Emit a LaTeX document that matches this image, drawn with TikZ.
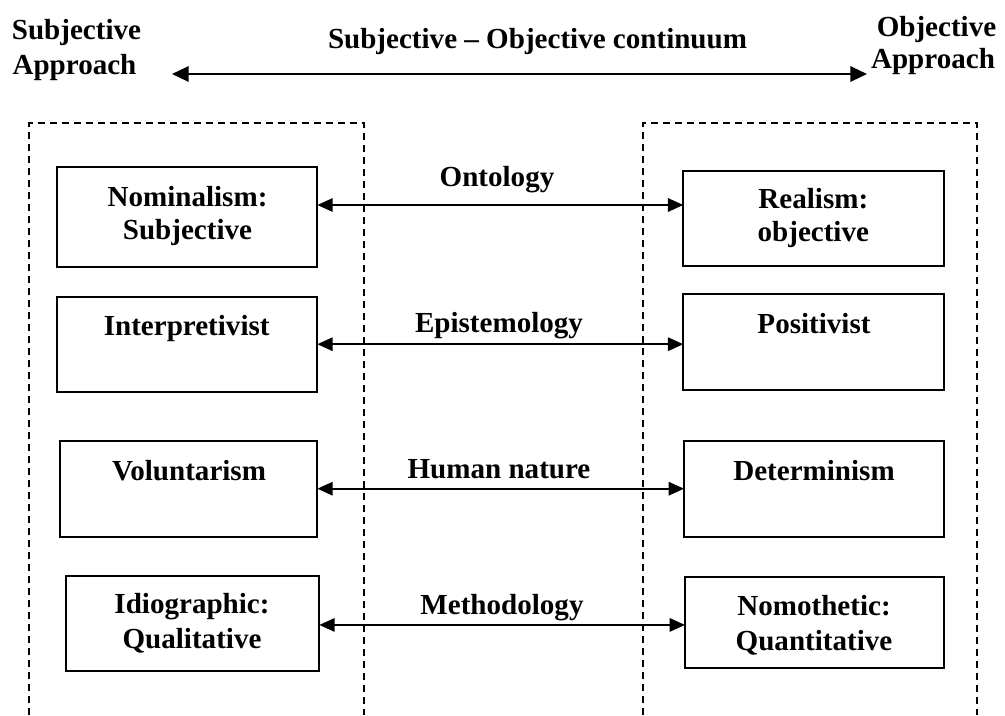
\documentclass[tikz,border=0pt]{standalone}
\usepackage{fontspec}
\setmainfont{Liberation Serif}
\usetikzlibrary{arrows.meta,fit}
\begin{document}
\begin{tikzpicture}[x=0.75pt,y=-0.75pt,
  every node/.style={inner sep=0pt, outer sep=0pt},
  txt/.style={anchor=base, font=\fontsize{21.8pt}{24.2pt}\selectfont\bfseries},
  termbox/.style={draw, line width=1.3pt, rectangle, inner sep=0pt},
  link/.style={line width=1.5pt, {Triangle[length=11.5pt,width=10pt]}-{Triangle[length=11.5pt,width=10pt]}},
  spine/.style={line width=1.6pt, {Triangle[length=12.5pt,width=11.5pt]}-{Triangle[length=12.5pt,width=11.5pt]}},
  zone/.style={line width=1.3pt, dash pattern=on 5.5pt off 3.5pt}]
\useasboundingbox (0,0) rectangle (1005,715);

% headings and the continuum arrow
\node[txt] (subjA) at (76.5,39.3) {Subjective};
\node[txt] (subjB) at (74.5,74.5) {Approach};
\node[txt] (objA) at (936.5,36.5) {Objective};
\node[txt] (objB) at (933,68) {Approach};
\node[txt] (cont) at (537.5,48) {Subjective -- Objective continuum};
\coordinate (spL) at (172,74);
\coordinate (spR) at (867,74);
\draw[spine] (spL) -- (spR);

% open dashed zones
\draw[zone] (29.3,715) -- (29.3,123.3) -- (364.3,123.3) -- (364.3,715);
\draw[zone] (643.3,715) -- (643.3,122.7) -- (976.7,122.7) -- (976.7,715);

% subjective-side boxes
\node[termbox, fit={(57.3,167.3) (317.3,266.7)}] (b1l) {};
\node[termbox, fit={(57.3,296.7) (317.3,391.7)}] (b2l) {};
\node[termbox, fit={(60,440.7) (317.3,536.7)}] (b3l) {};
\node[termbox, fit={(66,575.7) (319.3,670.7)}] (b4l) {};

% objective-side boxes
\node[termbox, fit={(683.3,170.7) (944,266)}] (b1r) {};
\node[termbox, fit={(683.3,294.3) (944,390)}] (b2r) {};
\node[termbox, fit={(684,440.7) (944,536.7)}] (b3r) {};
\node[termbox, fit={(685,576.7) (944.3,668.3)}] (b4r) {};

% box texts
\node[txt] (t1la) at (187.5,206.7) {Nominalism:};
\node[txt] (t1lb) at (187.5,239) {Subjective};
\node[txt] (t2l) at (186.7,335) {Interpretivist};
\node[txt] (t3l) at (189,480) {Voluntarism};
\node[txt] (t4la) at (192,613.3) {Idiographic:};
\node[txt] (t4lb) at (192,648.3) {Qualitative};

\node[txt] (t1ra) at (813.3,208.3) {Realism:};
\node[txt] (t1rb) at (813.3,241.7) {objective};
\node[txt] (t2r) at (814,333.3) {Positivist};
\node[txt] (t3r) at (814,480) {Determinism};
\node[txt] (t4ra) at (814,615) {Nomothetic:};
\node[txt] (t4rb) at (814,650) {Quantitative};

% dimension labels
\node[txt] (l1) at (497,186) {Ontology};
\node[txt] (l2) at (499,332.7) {Epistemology};
\node[txt] (l3) at (499,478) {Human nature};
\node[txt] (l4) at (502,614.3) {Methodology};

% two-way connectors
\coordinate (m1) at ([yshift=9pt]b1l.east);
\draw[link] (m1) -- (m1 -| b1r.west);
\draw[link] (b2l.east) -- (b2l.east -| b2r.west);
\draw[link] (b3l.east) -- (b3l.east -| b3r.west);
\coordinate (m4) at ([yshift=-1.3pt]b4l.east);
\draw[link] (m4) -- (m4 -| b4r.west);
\end{tikzpicture}
\end{document}
